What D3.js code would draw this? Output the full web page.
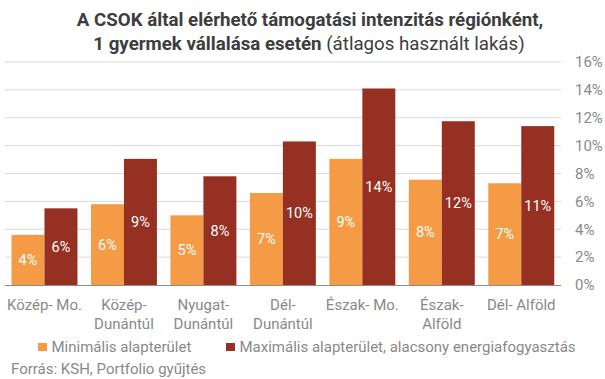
<!DOCTYPE html>
<html><head><meta charset="utf-8">
<script src="https://cdn.jsdelivr.net/npm/d3@7"></script>
<style>body{margin:0;background:#fff}svg{display:block;font-family:Roboto,sans-serif}</style>
</head><body><svg id="c" width="605" height="379"></svg>
<script>
const categories = [["Közép- Mo."],["Közép-","Dunántúl"],["Nyugat-","Dunántúl"],["Dél-","Dunántúl"],["Észak- Mo."],["Észak-","Alföld"],["Dél- Alföld"]];
const minValues = [3.6, 5.8, 5.0, 6.6, 9.05, 7.55, 7.3];
const maxValues = [5.5, 9.05, 7.8, 10.3, 14.1, 11.75, 11.4];
const seriesNames = ["Minimális alapterület","Maximális alapterület, alacsony energiafogyasztás"];
const colors = ["#f59b45","#963022"];
const yTicks = [0,2,4,6,8,10,12,14,16];

const svg = d3.select("#c");
const L = 4.75, R = 561, T = 62, B = 285;
const gray = "#898989";
const x = d3.scaleBand().domain(d3.range(categories.length)).range([L,R]).paddingInner(0.17).paddingOuter(0.085);
const xs = d3.scaleBand().domain([0,1]).range([0,x.bandwidth()]);
const y = d3.scaleLinear().domain([0,16]).range([B,T]);

// grid
svg.append("g").selectAll("line").data(yTicks.filter(d=>d>0)).join("line")
  .attr("x1",L).attr("x2",R).attr("y1",d=>y(d)).attr("y2",d=>y(d))
  .attr("stroke","#d9d9d9").attr("stroke-width",1);

// right axis
const ax = svg.append("g").attr("transform",`translate(${R},0)`)
  .call(d3.axisRight(y).tickValues(yTicks).tickFormat(d=>d+"%").tickSize(0).tickPadding(14));
ax.select(".domain").remove();
ax.selectAll("text").attr("fill",gray).style("font-size","15px").style("font-family","Roboto");

const series = [minValues, maxValues];
series.forEach((vals,si)=>{
  const g = svg.append("g");
  g.selectAll("rect").data(vals).join("rect")
    .attr("x",(d,i)=>x(i)+xs(si)).attr("width",xs.bandwidth())
    .attr("y",d=>y(d)).attr("height",d=>B-y(d)).attr("fill",colors[si]);
  g.selectAll("text").data(vals).join("text")
    .attr("x",(d,i)=>x(i)+xs(si)+xs.bandwidth()/2)
    .attr("y",d=>(y(d)+B)/2).attr("dy","0.35em")
    .attr("text-anchor","middle").attr("fill","#fff").style("font-size","14.5px")
    .text(d=>Math.round(d)+"%");
});

// baseline
svg.append("line").attr("x1",L).attr("x2",R).attr("y1",B+0.5).attr("y2",B+0.5).attr("stroke","#8c8c8c").attr("stroke-width",1);

// x labels
const xl = svg.append("g").selectAll("text").data(categories).join("text")
  .attr("x",(d,i)=>x(i)+x.bandwidth()/2).attr("y",310)
  .attr("text-anchor","middle").attr("fill",gray).style("font-size","15px");
xl.each(function(d){
  d3.select(this).selectAll("tspan").data(d).join("tspan")
    .attr("x",d3.select(this).attr("x")).attr("dy",(t,j)=>j?"18.5":"0").text(t=>t);
});

// legend
const leg = [{x:38,t:seriesNames[0],c:colors[0]},{x:226,t:seriesNames[1],c:colors[1]}];
const lg = svg.append("g");
leg.forEach(l=>{
  lg.append("rect").attr("x",l.x).attr("y",343).attr("width",9).attr("height",8).attr("fill",l.c);
  lg.append("text").attr("x",l.x+13.5).attr("y",351.5).attr("fill",gray).style("font-size","15px").text(l.t);
});

// source
svg.append("text").attr("x",11).attr("y",374).attr("fill",gray).style("font-size","15px").text("Forrás: KSH, Portfolio gyűjtés");

// title
const tt = svg.append("text").attr("text-anchor","middle").attr("fill","#3d3d3d").style("font-size","18.7px");
tt.append("tspan").attr("x",310).attr("y",26).style("font-weight","bold").text("A CSOK által elérhető támogatási intenzitás régiónként,");
const t2 = tt.append("tspan").attr("x",309).attr("y",50);
t2.append("tspan").style("font-weight","bold").text("1 gyermek vállalása esetén");
t2.append("tspan").text(" (átlagos használt lakás)");
</script></body></html>
